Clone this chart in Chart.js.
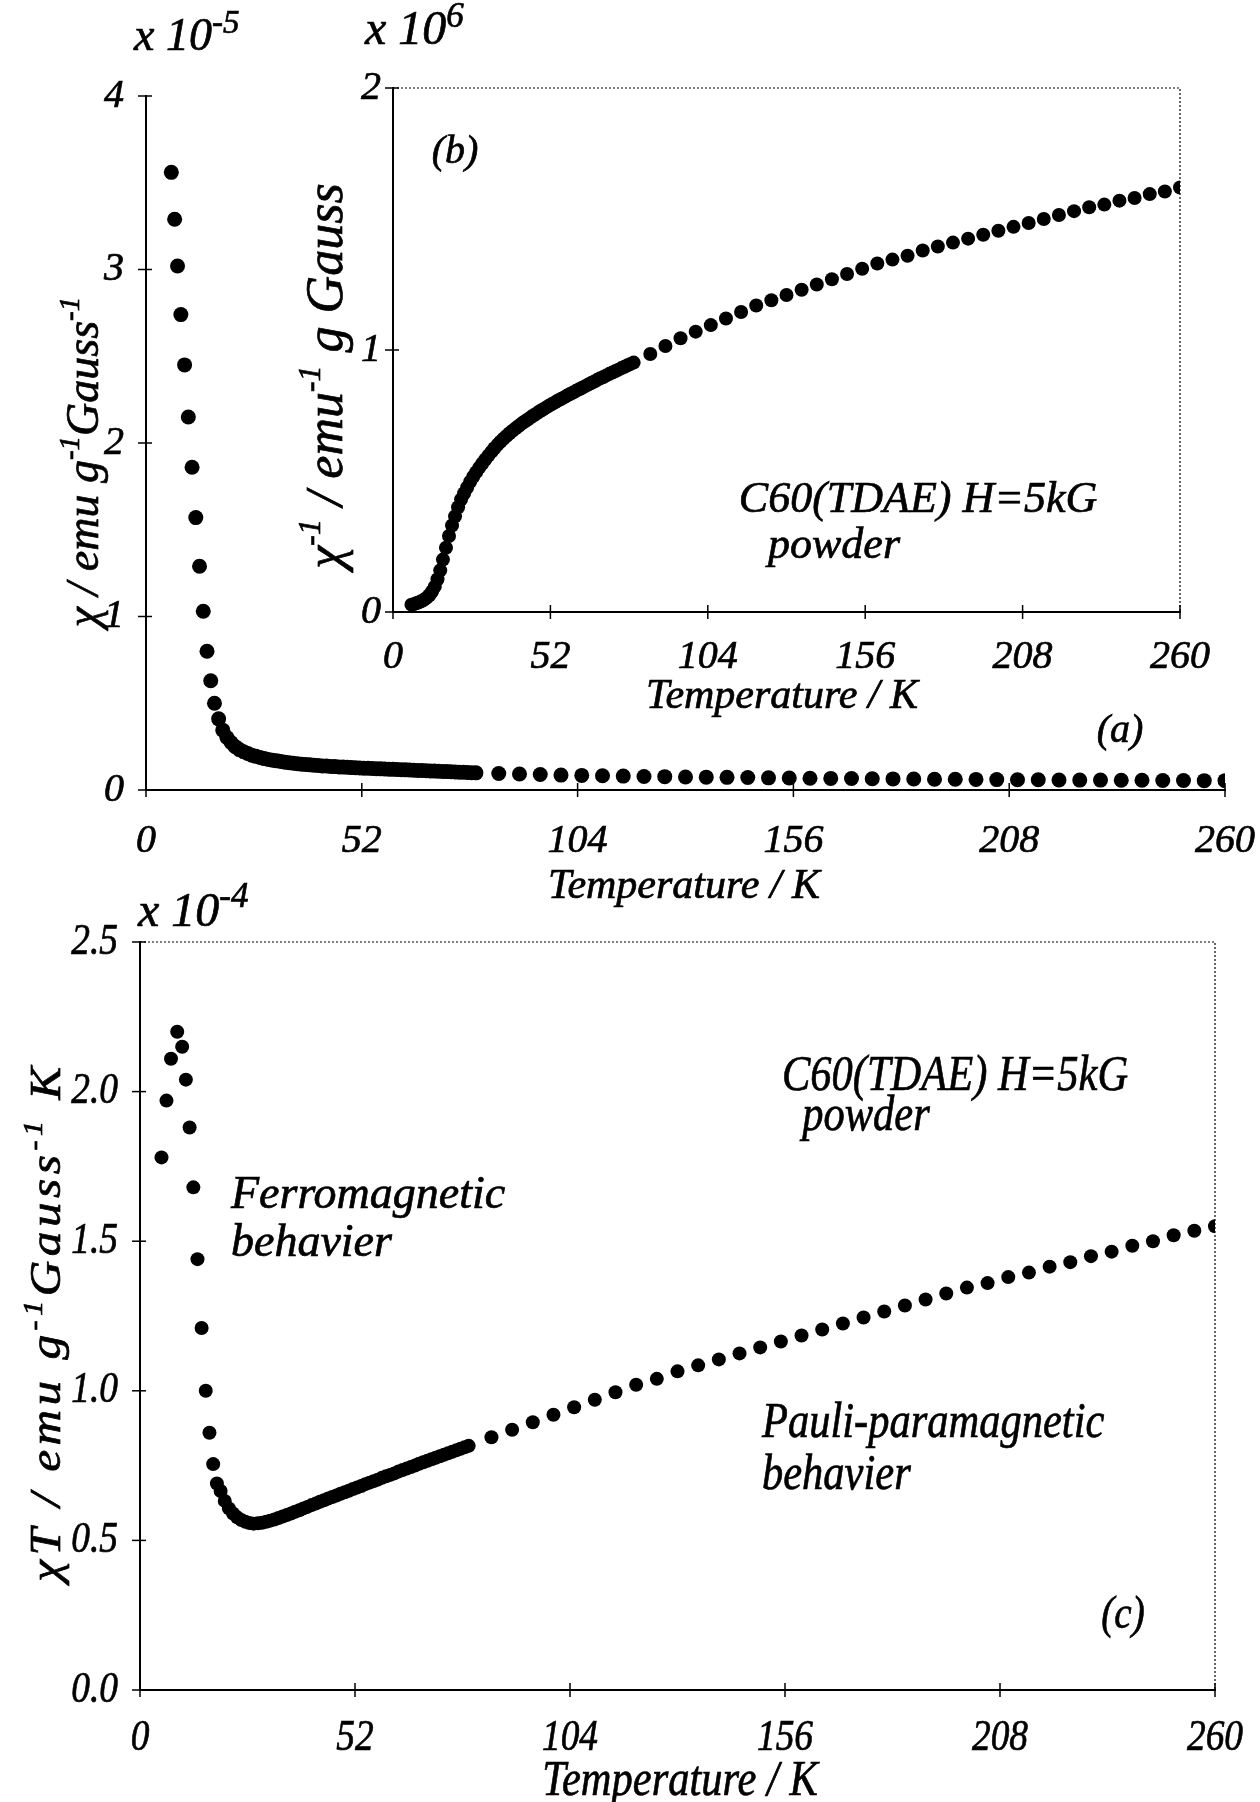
<!DOCTYPE html>
<html>
<head>
<meta charset="utf-8">
<title>C60(TDAE) susceptibility</title>
<script src="https://cdn.jsdelivr.net/npm/chart.js@4.4.1/dist/chart.umd.min.js"></script>
<style>
  html, body { margin: 0; padding: 0; background: #fff; }
  #page { position: relative; width: 1260px; height: 1802px; background: #fff; }
  #page canvas { position: absolute; left: 0; top: 0; }
</style>
</head>
<body>
<div id="page">
  <canvas id="chartChi" width="1260" height="1802"></canvas>
  <canvas id="chartInv" width="1260" height="1802"></canvas>
  <canvas id="chartChiT" width="1260" height="1802"></canvas>
</div>
<script>
"use strict";

// temperature axis, shared by the three panels (K)
var tempTicks = [0, 52, 104, 156, 208, 260];

// low-temperature points, measured ~0.9 K apart
var lowTemps = [6.1, 6.9, 7.6, 8.4, 9.3, 10.2, 11.1, 12.0, 12.9, 13.8, 14.7, 15.6, 16.5];
// dense run 17.5 .. 79.5 K, 1 K steps
var midTemps = [17.5, 18.5, 19.5, 20.5, 21.5, 22.5, 23.5, 24.5, 25.5, 26.5, 27.5, 28.5, 29.5, 30.5,
  31.5, 32.5, 33.5, 34.5, 35.5, 36.5, 37.5, 38.5, 39.5, 40.5, 41.5, 42.5, 43.5, 44.5, 45.5, 46.5,
  47.5, 48.5, 49.5, 50.5, 51.5, 52.5, 53.5, 54.5, 55.5, 56.5, 57.5, 58.5, 59.5, 60.5, 61.5, 62.5,
  63.5, 64.5, 65.5, 66.5, 67.5, 68.5, 69.5, 70.5, 71.5, 72.5, 73.5, 74.5, 75.5, 76.5, 77.5, 78.5, 79.5];
// high-temperature run, 5 K steps
var highTemps = [85, 90, 95, 100, 105, 110, 115, 120, 125, 130, 135, 140, 145, 150, 155, 160, 165,
  170, 175, 180, 185, 190, 195, 200, 205, 210, 215, 220, 225, 230, 235, 240, 245, 250, 255, 260];

// (a) chi, x 1e-5 emu/(g Gauss)
var chiLow = [3.56, 3.29, 3.02, 2.74, 2.45, 2.15, 1.86, 1.57, 1.29, 1.03, 0.80, 0.63, 0.50];
var chiMid = [0.41, 0.345, 0.303, 0.274, 0.25, 0.233, 0.221, 0.211, 0.201, 0.194, 0.187, 0.181, 0.176,
  0.172, 0.168, 0.164, 0.16, 0.157, 0.154, 0.151, 0.149, 0.147, 0.145, 0.143, 0.141, 0.139, 0.138,
  0.136, 0.135, 0.133, 0.132, 0.131, 0.129, 0.128, 0.127, 0.126, 0.125, 0.124, 0.123, 0.122, 0.121,
  0.12, 0.119, 0.118, 0.117, 0.116, 0.115, 0.114, 0.113, 0.112, 0.111, 0.11, 0.109, 0.108, 0.107,
  0.106, 0.105, 0.104, 0.103, 0.102, 0.101, 0.100, 0.099];
var chiHigh = [0.095, 0.092, 0.089, 0.086, 0.084, 0.082, 0.080, 0.078, 0.077, 0.075, 0.074, 0.073,
  0.072, 0.070, 0.069, 0.068, 0.067, 0.066, 0.065, 0.064, 0.063, 0.062, 0.062, 0.061, 0.060, 0.059,
  0.059, 0.058, 0.057, 0.057, 0.056, 0.056, 0.055, 0.055, 0.054, 0.054];

// (b) 1/chi, x 1e6 emu^-1 g Gauss
var invLow = [0.028, 0.030, 0.033, 0.036, 0.041, 0.047, 0.054, 0.064, 0.078, 0.097, 0.125, 0.159, 0.20];
var invMid = [0.245, 0.29, 0.33, 0.365, 0.40, 0.43, 0.453, 0.475, 0.497, 0.516, 0.534, 0.551, 0.567,
  0.582, 0.597, 0.611, 0.625, 0.638, 0.65, 0.661, 0.672, 0.682, 0.692, 0.701, 0.71, 0.719, 0.727,
  0.735, 0.743, 0.751, 0.758, 0.766, 0.773, 0.78, 0.787, 0.794, 0.80, 0.807, 0.813, 0.819, 0.826,
  0.832, 0.838, 0.844, 0.85, 0.856, 0.862, 0.868, 0.874, 0.88, 0.886, 0.892, 0.897, 0.903, 0.909,
  0.914, 0.92, 0.925, 0.931, 0.936, 0.942, 0.947, 0.952];
var invHigh = [0.985, 1.015, 1.045, 1.07, 1.095, 1.12, 1.145, 1.17, 1.19, 1.21, 1.23, 1.25, 1.27,
  1.29, 1.31, 1.33, 1.345, 1.36, 1.38, 1.395, 1.41, 1.425, 1.44, 1.455, 1.47, 1.485, 1.50, 1.515,
  1.53, 1.545, 1.555, 1.57, 1.58, 1.595, 1.605, 1.62];

// (c) chi*T, x 1e-4 emu K/(g Gauss)
var chiTLowTemps = [5.2, 6.4, 7.5, 9.0, 10.2, 11.1, 12.0, 12.9, 13.9, 14.9, 15.9, 16.8, 17.7, 18.6];
var chiTLow = [1.78, 1.97, 2.11, 2.20, 2.15, 2.04, 1.88, 1.68, 1.44, 1.21, 1.00, 0.86, 0.755, 0.69];
var chiTMid = [0.665, 0.632, 0.607, 0.59, 0.577, 0.568, 0.562, 0.558, 0.556, 0.557, 0.559, 0.562,
  0.566, 0.57, 0.575, 0.58, 0.585, 0.59, 0.596, 0.601, 0.607, 0.612, 0.618, 0.623, 0.629, 0.634,
  0.64, 0.645, 0.65, 0.656, 0.661, 0.666, 0.672, 0.677, 0.682, 0.688, 0.693, 0.698, 0.703, 0.709,
  0.714, 0.719, 0.724, 0.73, 0.735, 0.74, 0.745, 0.75, 0.756, 0.761, 0.766, 0.771, 0.776, 0.781,
  0.786, 0.791, 0.796, 0.801, 0.806, 0.811, 0.816];
var chiTHigh = [0.845, 0.87, 0.895, 0.92, 0.945, 0.97, 0.995, 1.02, 1.04, 1.065, 1.085, 1.105, 1.125,
  1.145, 1.165, 1.185, 1.205, 1.225, 1.245, 1.265, 1.285, 1.305, 1.325, 1.345, 1.36, 1.38, 1.395,
  1.415, 1.43, 1.45, 1.465, 1.485, 1.50, 1.52, 1.535, 1.55];

var SERIF = '"Liberation Serif", "Times New Roman", serif';
var PAGE_W = 1260, PAGE_H = 1802;

function pts(xs, ys) {
  return xs.map(function(x, i) { return { x: x, y: ys[i] }; });
}

// write a run of text pieces; pieces flagged true are raised as superscripts.
// o.track adds extra space after every character
function drawRich(ctx, parts, x, y, o) {
  var size = o.size, squeeze = o.squeeze || 1, supScale = o.sup || 0.62;
  var track = o.track || 0;
  var mainFont = 'italic ' + size + 'px ' + SERIF;
  var supFont = 'italic ' + Math.round(size * supScale) + 'px ' + SERIF;
  var rise = size * (o.rise || 0.42);
  ctx.save();
  ctx.translate(x, y);
  if (o.rotate) ctx.rotate(o.rotate);
  ctx.scale(squeeze, 1);
  ctx.fillStyle = '#000';
  ctx.strokeStyle = '#000';
  ctx.lineWidth = 0.7;
  ctx.textBaseline = o.baseline || 'alphabetic';
  ctx.textAlign = 'left';
  var runWidth = function(s) {
    return track ? s.split('').reduce(function(a, ch) { return a + ctx.measureText(ch).width + track; }, 0)
                 : ctx.measureText(s).width;
  };
  var w = 0;
  parts.forEach(function(p) {
    ctx.font = p[1] ? supFont : mainFont;
    w += runWidth(p[0]);
  });
  var cx = o.align === 'center' ? -w / 2 : (o.align === 'right' ? -w : 0);
  parts.forEach(function(p) {
    ctx.font = p[1] ? supFont : mainFont;
    var yy = p[1] ? -rise : 0;
    var pieces = track ? p[0].split('') : [p[0]];
    pieces.forEach(function(s) {
      ctx.fillText(s, cx, yy);
      ctx.strokeText(s, cx, yy);
      cx += ctx.measureText(s).width + track;
    });
  });
  ctx.restore();
}

// ticks crossing the axis lines, tick labels, dotted frame, captions
var decorPlugin = {
  id: 'decor',
  afterDraw: function(chart, args, opts) {
    var ctx = chart.ctx, area = chart.chartArea;
    var xs = chart.scales.x, ys = chart.scales.y;
    var lab = opts.labels;
    ctx.save();
    ctx.strokeStyle = '#000';
    ctx.lineWidth = 1.5;
    xs.ticks.forEach(function(t) {
      var px = xs.getPixelForValue(t.value);
      ctx.beginPath();
      ctx.moveTo(px, area.bottom - 7);
      ctx.lineTo(px, area.bottom + 7);
      ctx.stroke();
      drawRich(ctx, [[String(t.value), false]], px, area.bottom + lab.xDrop,
        { size: lab.size, squeeze: lab.squeeze, align: 'center' });
    });
    ys.ticks.forEach(function(t) {
      var py = ys.getPixelForValue(t.value);
      ctx.beginPath();
      ctx.moveTo(area.left - 8, py);
      ctx.lineTo(area.left + 6, py);
      ctx.stroke();
      drawRich(ctx, [[lab.yFormat(t.value), false]], area.left - lab.yGap, py,
        { size: lab.size, squeeze: lab.squeeze, align: 'right', baseline: 'middle' });
    });
    if (opts.frame) {
      ctx.setLineDash([2, 2]);
      ctx.lineWidth = 1.2;
      ctx.beginPath();
      ctx.moveTo(area.left, area.top);
      ctx.lineTo(area.right, area.top);
      ctx.lineTo(area.right, area.bottom);
      ctx.stroke();
      ctx.setLineDash([]);
    }
    ctx.restore();
    (opts.texts || []).forEach(function(t) {
      drawRich(ctx, t.parts, t.x, t.y, t);
    });
  }
};

function panel(id, datasets, box, yRange, pointRadius, decor) {
  var fixWidth = function(scale) { scale.width = box.left; };
  var fixHeight = function(scale) { scale.height = PAGE_H - box.bottom; };
  return new Chart(document.getElementById(id), {
    type: 'scatter',
    data: {
      datasets: datasets.map(function(d) {
        return {
          data: d,
          showLine: false,
          pointRadius: pointRadius,
          pointHoverRadius: pointRadius,
          pointBackgroundColor: '#000',
          pointBorderWidth: 0,
          pointStyle: 'circle'
        };
      })
    },
    options: {
      responsive: false,
      animation: false,
      events: [],
      layout: { padding: { left: 0, top: box.top, right: PAGE_W - box.right, bottom: 0 } },
      plugins: { legend: { display: false }, tooltip: { enabled: false }, decor: decor },
      scales: {
        x: {
          type: 'linear', min: 0, max: 260,
          afterBuildTicks: function(scale) {
            scale.ticks = tempTicks.map(function(v) { return { value: v }; });
          },
          afterFit: fixHeight,
          grid: { display: false },
          border: { display: true, color: '#000', width: 2 },
          ticks: { display: false }
        },
        y: {
          type: 'linear', min: yRange.min, max: yRange.max,
          afterBuildTicks: function(scale) {
            scale.ticks = yRange.ticks.map(function(v) { return { value: v }; });
          },
          afterFit: fixWidth,
          grid: { display: false },
          border: { display: true, color: '#000', width: 2 },
          ticks: { display: false }
        }
      }
    },
    plugins: [decorPlugin]
  });
}

// (a) chi versus T
panel('chartChi',
  [pts(lowTemps, chiLow), pts(midTemps, chiMid), pts(highTemps, chiHigh)],
  { left: 146, top: 96, right: 1225, bottom: 790 },
  { min: 0, max: 4, ticks: [0, 1, 2, 3, 4] },
  7.5,
  {
    frame: false,
    labels: { size: 40, xDrop: 62, yGap: 22, yFormat: function(v) { return String(v); } },
    texts: [
      { parts: [['x 10', false], ['-5', true]], x: 134, y: 50, size: 46, sup: 0.72, rise: 0.36 },
      { parts: [['\u03c7 / emu g', false], ['-1', true], ['Gauss', false], ['-1', true]],
        x: 98, y: 462, size: 46, rotate: -Math.PI / 2, align: 'center' },
      { parts: [['Temperature / K', false]], x: 684, y: 898, size: 42, align: 'center' },
      { parts: [['(a)', false]], x: 1120, y: 742, size: 40, align: 'center' }
    ]
  });

// (b) inset: 1/chi versus T
panel('chartInv',
  [pts(lowTemps, invLow), pts(midTemps, invMid), pts(highTemps, invHigh)],
  { left: 393, top: 88, right: 1180, bottom: 612 },
  { min: 0, max: 2, ticks: [0, 1, 2] },
  7,
  {
    frame: true,
    labels: { size: 40, xDrop: 56, yGap: 12, yFormat: function(v) { return String(v); } },
    texts: [
      { parts: [['x 10', false], ['6', true]], x: 365, y: 44, size: 48, sup: 0.72, rise: 0.36 },
      { parts: [['\u03c7', false], ['-1', true], [' / emu', false], ['-1', true], [' g Gauss', false]],
        x: 342, y: 376, size: 52, rotate: -Math.PI / 2, align: 'center' },
      { parts: [['Temperature / K', false]], x: 782, y: 708, size: 42, align: 'center' },
      { parts: [['(b)', false]], x: 455, y: 163, size: 40, align: 'center' },
      { parts: [['C60(TDAE) H=5kG', false]], x: 918, y: 512, size: 44, align: 'center' },
      { parts: [['powder', false]], x: 834, y: 558, size: 44, align: 'center' }
    ]
  });

// (c) chi*T versus T
panel('chartChiT',
  [pts(chiTLowTemps, chiTLow), pts(midTemps.slice(2), chiTMid), pts(highTemps, chiTHigh)],
  { left: 140, top: 942, right: 1215, bottom: 1690 },
  { min: 0, max: 2.5, ticks: [0, 0.5, 1, 1.5, 2, 2.5] },
  7,
  {
    frame: true,
    labels: { size: 44, squeeze: 0.85, xDrop: 60, yGap: 22, yFormat: function(v) { return v.toFixed(1); } },
    texts: [
      { parts: [['x 10', false], ['-4', true]], x: 138, y: 926, size: 48, sup: 0.72, rise: 0.4 },
      { parts: [['\u03c7T / emu g', false], ['-1', true], ['Gauss', false], ['-1', true], [' K', false]],
        x: 60, y: 1322, size: 44, squeeze: 1.12, track: 4, rotate: -Math.PI / 2, align: 'center' },
      { parts: [['Temperature / K', false]], x: 680, y: 1795, size: 50, squeeze: 0.85, align: 'center' },
      { parts: [['C60(TDAE) H=5kG', false]], x: 955, y: 1090, size: 50, squeeze: 0.85, align: 'center' },
      { parts: [['powder', false]], x: 866, y: 1130, size: 50, squeeze: 0.85, align: 'center' },
      { parts: [['Ferromagnetic', false]], x: 231, y: 1208, size: 46 },
      { parts: [['behavier', false]], x: 231, y: 1256, size: 46 },
      { parts: [['Pauli-paramagnetic', false]], x: 762, y: 1437, size: 50, squeeze: 0.85 },
      { parts: [['behavier', false]], x: 762, y: 1489, size: 50, squeeze: 0.85 },
      { parts: [['(c)', false]], x: 1123, y: 1628, size: 46, squeeze: 0.85, align: 'center' }
    ]
  });
</script>
</body>
</html>
